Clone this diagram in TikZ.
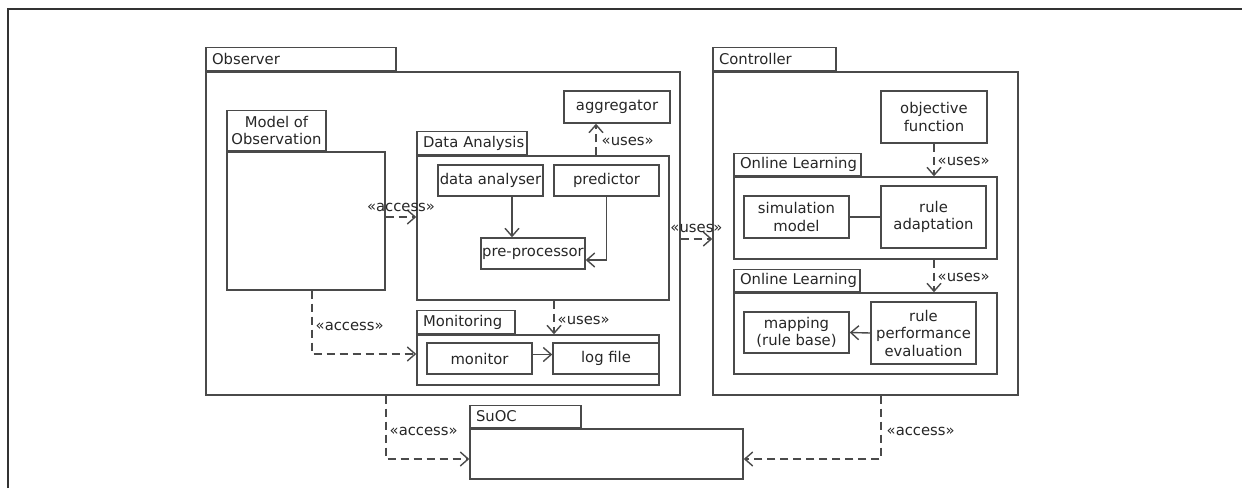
\documentclass[tikz,border=0pt]{standalone}
\usepackage{fontspec}
\setmainfont{DejaVu Sans}
\usetikzlibrary{arrows.meta}
\definecolor{edge}{HTML}{4A4A4A}
\definecolor{ink}{HTML}{262626}
\newcommand{\umlfont}{\fontsize{14.8}{17.5}\selectfont}
\begin{document}
\begin{tikzpicture}[x=1pt,y=-1pt,
  every node/.style={text=ink,font=\umlfont},
  box/.style={draw=edge,line width=1.4pt,inner sep=0pt,align=center},
  pkgbody/.style={box},
  pkgtab/.style={box,anchor=south west,inner xsep=6pt,align=left},
  conn/.style={draw=edge,line width=1.4pt},
  dep/.style={conn,dash pattern=on 8pt off 5pt},
  tip/.style={-{Straight Barb[length=8pt,width=14pt,line width=1.4pt]}},
  lbl/.style={inner sep=0pt}
]
\useasboundingbox (0,0) rectangle (1242,488);

% page frame
\draw[draw=black!80,line width=1.5pt] (8,488) -- (8,9) -- (1242,9);

% ---------- Observer ----------
\node[pkgbody,minimum width=474pt,minimum height=323pt] (obs) at (443,233.5) {};
\node[pkgtab,minimum width=190pt,minimum height=23pt,text width=178pt] (obsT) at (obs.north west) {\mbox{Observer}};

\node[box,minimum width=106pt,minimum height=32pt] (agg) at (617,107) {aggregator};

\node[pkgbody,minimum width=158pt,minimum height=138pt] (moo) at (306,221) {};
\node[box,anchor=south west,minimum width=99pt,minimum height=40pt] (mooT) at (moo.north west) {Model of\\Observation};

\node[pkgbody,minimum width=252pt,minimum height=144pt] (da) at (543,228) {};
\node[pkgtab,minimum width=110pt,minimum height=23pt,text width=98pt] (daT) at (da.north west) {\mbox{Data Analysis}};
\node[box,minimum width=105pt,minimum height=31pt] (dan) at (490.5,180.5) {data analyser};
\node[box,minimum width=105pt,minimum height=31pt] (pred) at (606.5,180.5) {predictor};
\node[box,minimum width=104pt,minimum height=31pt] (pp) at (533,253.5) {pre-processor};

\node[pkgbody,minimum width=242pt,minimum height=50pt] (mon) at (538,360) {};
\node[pkgtab,minimum width=98pt,minimum height=23pt,text width=86pt] (monT) at (mon.north west) {\mbox{Monitoring}};
\node[box,minimum width=105pt,minimum height=31pt] (monitor) at (479.5,358.5) {monitor};
\node[box,minimum width=106pt,minimum height=31pt] (logf) at (606,358.5) {log file};

% ---------- Controller ----------
\node[pkgbody,minimum width=305pt,minimum height=323pt] (ctrl) at (865.5,233.5) {};
\node[pkgtab,minimum width=123pt,minimum height=23pt,text width=111pt] (ctrlT) at (ctrl.north west) {\mbox{Controller}};

\node[box,minimum width=106pt,minimum height=52pt] (obj) at (934,117) {objective\\function};

\node[pkgbody,minimum width=263pt,minimum height=82pt] (olA) at (865.5,218) {};
\node[pkgtab,minimum width=127pt,minimum height=22pt,text width=115pt] (olAT) at (olA.north west) {\mbox{Online Learning}};
\node[box,minimum width=105pt,minimum height=42pt] (sim) at (796.5,217) {simulation\\model};
\node[box,minimum width=105pt,minimum height=62pt] (ra) at (933.5,217) {rule\\adaptation};

\node[pkgbody,minimum width=263pt,minimum height=81pt] (olB) at (865.5,333.5) {};
\node[pkgtab,minimum width=126pt,minimum height=22pt,text width=114pt] (olBT) at (olB.north west) {\mbox{Online Learning}};
\node[box,minimum width=105pt,minimum height=41pt] (map) at (796.5,332.5) {mapping\\(rule base)};
\node[box,minimum width=105pt,minimum height=62pt] (rpe) at (923.5,333) {rule\\performance\\evaluation};

% ---------- SuOC ----------
\node[pkgbody,minimum width=273pt,minimum height=50pt] (suoc) at (606.5,454) {};
\node[pkgtab,minimum width=111pt,minimum height=22pt,text width=99pt] (suocT) at (suoc.north west) {\mbox{SuOC}};

% ---------- connectors inside Observer ----------
\coordinate (accA) at ([yshift=4pt]moo.east);
\draw[dep,tip] (accA) -- (accA -| da.west)
  node[lbl,midway,yshift=10pt] {«access»};

\coordinate (danOut) at ([xshift=21.5pt]dan.south);
\draw[conn,tip] (danOut) -- (danOut |- pp.north);
\draw[conn,tip] (pred.south) |- ([yshift=-6.5pt]pp.east);

\coordinate (aggIn) at ([xshift=-21pt]agg.south);
\draw[dep,tip] (aggIn |- da.north) -- (aggIn)
  node[lbl,pos=0.45,right,xshift=5pt] {«uses»};

\coordinate (accB) at ([xshift=6pt]moo.south);
\draw[dep,tip] (accB) |- ([yshift=6pt]mon.west)
  node[lbl,pos=0.28,right,xshift=3pt] {«access»};

\coordinate (usesC) at ([xshift=11pt]da.south);
\draw[dep,tip] (usesC) -- (usesC |- mon.north)
  node[lbl,pos=0.6,right,xshift=3pt] {«uses»};

\draw[conn,tip] ([yshift=4pt]monitor.east) -- ([yshift=4pt]logf.west);

% ---------- Observer to Controller ----------
\coordinate (usesD) at ([yshift=-5.5pt]obs.east);
\draw[dep,tip] (usesD) -- (usesD -| ctrl.west)
  node[lbl,midway,yshift=11pt] {«uses»};

% ---------- connectors inside Controller ----------
\draw[dep,tip] (obj.south) -- (obj.south |- olA.north)
  node[lbl,pos=0.55,right,xshift=3pt] {«uses»};
\draw[conn] (sim.east) -- (ra.west);

\coordinate (usesE) at ([xshift=68.5pt]olA.south);
\draw[dep,tip] (usesE) -- (usesE |- olB.north)
  node[lbl,pos=0.55,right,xshift=3pt] {«uses»};
\draw[conn,tip] (rpe.west) -- (map.east);

% ---------- access to SuOC ----------
\coordinate (accF) at ([xshift=-57pt]obs.south);
\draw[dep,tip] (accF) |- ([yshift=-5pt]suoc.west)
  node[lbl,pos=0.28,right,xshift=3pt] {«access»};

\coordinate (accG) at ([xshift=15.5pt]ctrl.south);
\draw[dep,tip] (accG) |- ([yshift=-5pt]suoc.east)
  node[lbl,pos=0.28,right,xshift=5pt] {«access»};
\end{tikzpicture}
\end{document}
